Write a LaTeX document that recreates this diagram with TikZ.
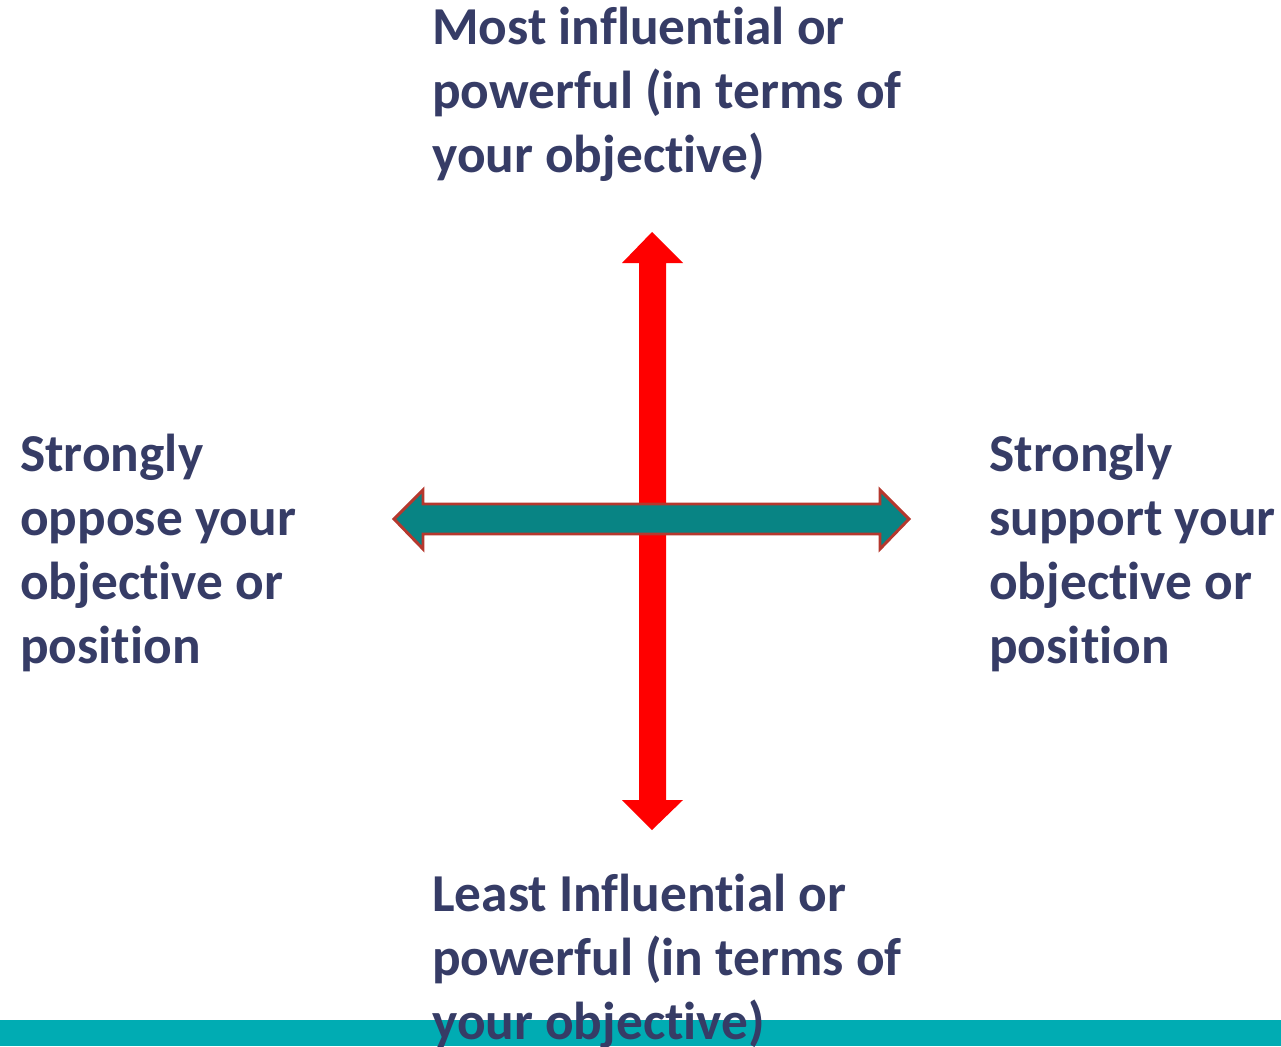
\documentclass[tikz,border=0pt]{standalone}
\usepackage{fontspec}
\setmainfont[Ligatures={NoCommon}]{Carlito}
\definecolor{txtnavy}{HTML}{363C66}
\definecolor{barteal}{HTML}{00ACB3}
\definecolor{arrteal}{HTML}{088484}
\definecolor{arrborder}{HTML}{B5382E}
\begin{document}
\begin{tikzpicture}[x=0.75pt,y=-0.75pt,
  label/.style={font=\fontsize{40}{48}\selectfont\bfseries, text=txtnavy, align=left, inner sep=0pt, anchor=north west},
  redarrow/.style={fill=red, draw=none},
  tealarrow/.style={fill=arrteal, draw=arrborder, line width=2.2pt, line join=miter}]
\useasboundingbox (0,0) rectangle (1281,1046);
% bottom bar
\fill[barteal] (0,1020) rectangle (1281,1046);
% vertical red double arrow
\coordinate (vtop) at (652,232);
\coordinate (vbot) at (652,830);
\path[redarrow] (vtop) -- (683,263) -- (666,263) -- (666,800) -- (683,800) -- (vbot)
  -- (622,800) -- (639,800) -- (639,263) -- (622,263) -- cycle;
% horizontal teal double arrow
\coordinate (hleft) at (394,519);
\coordinate (hright) at (909,519);
\path[tealarrow] (hleft) -- (423,490) -- (423,504) -- (880,504) -- (880,490) -- (hright)
  -- (880,549) -- (880,534) -- (423,534) -- (423,549) -- cycle;
% labels
\node[label] (top) at (432,7) {Most influential or\\powerful (in terms of\\your objective)};
\node[label] (left) at (20,434) {Strongly\\oppose your\\objective or\\position};
\node[label] (right) at (989,434) {Strongly\\support your\\objective or\\position};
\node[label] (bottom) at (432,874) {Least Influential or\\powerful (in terms of\\your objective)};
\end{tikzpicture}
\end{document}
